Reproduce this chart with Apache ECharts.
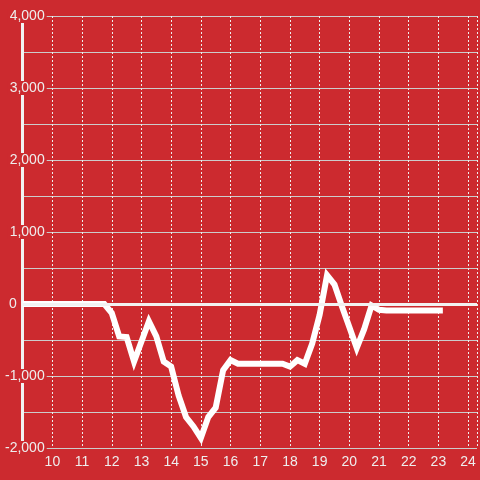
<!DOCTYPE html>
<html>
<head>
<meta charset="utf-8">
<script src="https://cdn.jsdelivr.net/npm/echarts@6/dist/echarts.min.js"></script>
<style>
    html, body { margin: 0; padding: 0; background: #cc2a2f; }
    #chart { width: 480px; height: 480px; }
</style>
</head>
<body>
<div id="chart"></div>
<script>
// hours of day, quarter-hour steps
const hours = [
    9, 9.25, 9.5, 9.75, 10, 10.25, 10.5, 10.75, 11, 11.25, 11.5, 11.75,
    12, 12.25, 12.5, 12.75, 13, 13.25, 13.5, 13.75, 14, 14.25, 14.5, 14.75,
    15, 15.25, 15.5, 15.75, 16, 16.25, 16.5, 16.75, 17, 17.25, 17.5, 17.75,
    18, 18.25, 18.5, 18.75, 19, 19.25, 19.5, 19.75, 20, 20.25, 20.5, 20.75,
    21, 21.25, 21.5, 21.75, 22, 22.25, 22.5, 22.75, 23, 23.15
];
const values = [
    0, 0, 0, 0, 0, 0, 0, 0, 0, 0, 0, 0,
    -125, -450, -460, -800, -520, -240, -450, -800, -870, -1270, -1570, -1700,
    -1860, -1570, -1440, -920, -780, -830, -830, -830, -830, -830, -830, -830,
    -870, -780, -830, -550, -150, 400, 270, -30, -320, -610, -350, -20,
    -80, -90, -90, -90, -90, -90, -90, -90, -90, -90
];
const xMin = 9, xMax = 24.3;
const yMin = -2000, yMax = 4000;
const bg = '#cc2a2f';

let myChart = echarts.init(document.getElementById('chart'));
let option = {
    backgroundColor: bg,
    animation: false,
    grid: {
        left: 20,
        right: 0,
        top: 16,
        bottom: 32
    },
    xAxis: {
        type: 'value',
        min: xMin,
        max: xMax,
        interval: 1,
        axisLine: { show: false },
        axisTick: { show: false },
        axisLabel: {
            color: '#eee',
            fontSize: 14,
            margin: 7,
            fontFamily: 'Liberation Sans',
            formatter: (v) => (Number.isInteger(v) && v > xMin) ? String(v) : ''
        },
        splitLine: {
            show: true,
            lineStyle: { color: '#eee', type: [2, 2], width: 1 }
        }
    },
    yAxis: {
        type: 'value',
        min: yMin,
        max: yMax,
        interval: 1000,
        axisLine: {
            show: true,
            lineStyle: { color: '#f2f2f2', width: 3 }
        },
        axisTick: { show: false },
        axisLabel: {
            color: '#eee',
            fontSize: 14,
            margin: -24,
            fontFamily: 'Liberation Sans',
            formatter: (v) => v === 0 ? '{z|0}' : '{b|' + echarts.format.addCommas(v) + '}',
            rich: {
                b: { color: '#eee', fontSize: 14, backgroundColor: bg, padding: [0, 2, 0, 2] },
                z: { color: '#eee', fontSize: 14, padding: [0, 30, 0, 0] }
            }
        },
        splitLine: {
            lineStyle: { color: '#ccc', width: 1 }
        },
        minorTick: { show: false, splitNumber: 2 },
        minorSplitLine: {
            show: true,
            lineStyle: { color: '#ccc', width: 1 }
        }
    },
    series: [
        {
            type: 'line',
            data: hours.map((h, i) => [h, values[i]]),
            showSymbol: false,
            lineStyle: { color: '#fff', width: 6, cap: 'butt', join: 'miter' },
            z: 3,
            markLine: {
                silent: true,
                symbol: 'none',
                label: { show: false },
                lineStyle: { color: '#f2f2f2', width: 3, type: 'solid' },
                data: [{ yAxis: 0 }]
            }
        }
    ]
};
myChart.setOption(option);
</script>
</body>
</html>
